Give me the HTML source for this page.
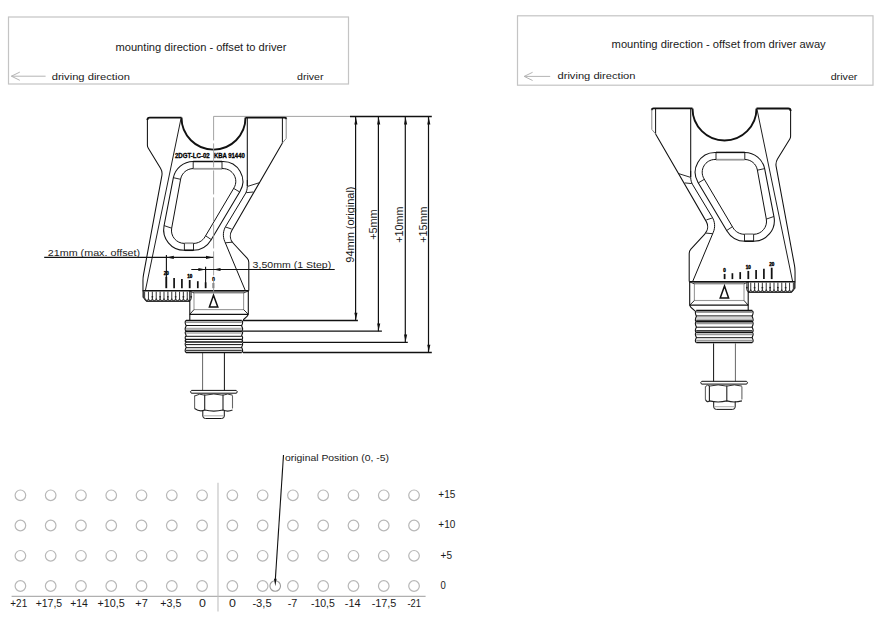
<!DOCTYPE html><html><head><meta charset="utf-8"><style>html,body{margin:0;padding:0;background:#fff;overflow:hidden;}svg{display:block;}text{font-family:"Liberation Sans",sans-serif;}</style></head><body>
<svg width="895" height="632" viewBox="0 0 895 632">
<rect width="895" height="632" fill="#fff"/>
<defs><g id="br"><path d="M147.4,120 Q147.4,117.6 149.8,117.6 L181.5,117.6" stroke="#111" stroke-width="1.90" fill="none" />
<path d="M245.5,117.5 L284.4,117.5 Q286.2,117.5 286.2,119.3" stroke="#111" stroke-width="1.90" fill="none" />
<path d="M181.5,117.6 A32,32 0 0 0 245.5,117.6" stroke="#111" stroke-width="1.90" fill="none" />
<path d="M147.40,119.50 L147.40,145.30 C147.40,146.28 147.67,147.24 148.18,148.08 L160.51,168.19 C161.86,170.39 162.34,173.00 161.87,175.53 L143.52,274.55 C143.15,276.51 142.97,278.50 142.97,280.50 L142.97,290.70" stroke="#111" stroke-width="1.05" fill="none" />
<line x1="181.00" y1="118.50" x2="145.40" y2="290.50" stroke="#111" stroke-width="0.95"/>
<line x1="247.30" y1="117.50" x2="247.30" y2="186.00" stroke="#111" stroke-width="1.05"/>
<line x1="282.40" y1="117.50" x2="282.40" y2="143.00" stroke="#111" stroke-width="1.00"/>
<path d="M286.2,118.5 L286.2,138.5 L282.4,143" stroke="#888" stroke-width="1.00" fill="none" />
<path d="M282.40,143.00 L231.81,230.47 C229.42,234.59 230.01,239.78 233.25,243.26 L247.10,258.17 C248.19,259.35 248.80,260.89 248.80,262.50 L248.80,290.70" stroke="#111" stroke-width="1.05" fill="none" />
<path d="M247.30,180.00 L247.30,186.50 C247.30,189.12 246.59,191.68 245.24,193.93 L225.79,226.22 C223.03,230.80 222.62,236.41 224.69,241.34 L245.50,291.00" stroke="#111" stroke-width="1.00" fill="none" />
<line x1="247.60" y1="186.40" x2="260.00" y2="182.50" stroke="#111" stroke-width="0.90"/>
<line x1="246.20" y1="192.70" x2="253.30" y2="192.00" stroke="#111" stroke-width="0.90"/>
<line x1="225.50" y1="227.00" x2="231.60" y2="229.00" stroke="#111" stroke-width="0.90"/>
<line x1="225.30" y1="242.80" x2="232.20" y2="242.20" stroke="#111" stroke-width="0.90"/>
<path d="M173.32,177.90 C175.17,168.38 183.50,161.50 193.20,161.50 L222.90,161.50 C238.32,161.50 247.87,178.31 239.96,191.55 L211.05,240.00 C207.24,246.39 200.34,250.30 192.90,250.30 L184.30,250.30 C171.34,250.30 161.59,238.48 164.05,225.76 Z" stroke="#111" stroke-width="1.05" fill="none" />
<path d="M180.64,179.08 C181.75,173.01 187.03,168.60 193.20,168.60 L223.00,168.60 C232.89,168.60 239.03,179.36 233.99,187.87 L204.97,236.86 C202.57,240.91 198.21,243.40 193.50,243.40 L184.40,243.40 C176.33,243.40 170.23,236.09 171.68,228.15 Z" stroke="#111" stroke-width="1.00" fill="none" />
<rect x="193.6" y="167.6" width="28" height="2.2" fill="#fff"/>
<line x1="193.40" y1="168.80" x2="222.00" y2="168.80" stroke="#999" stroke-width="1.80"/>
<line x1="193.20" y1="161.50" x2="222.00" y2="161.50" stroke="#111" stroke-width="1.50"/>
<rect x="184.9" y="242.4" width="8.1" height="2.0" fill="#fff"/>
<line x1="184.60" y1="243.20" x2="193.30" y2="243.20" stroke="#999" stroke-width="1.80"/>
<line x1="184.40" y1="250.30" x2="193.50" y2="250.30" stroke="#111" stroke-width="1.50"/>
<line x1="193.20" y1="161.50" x2="193.20" y2="168.60" stroke="#111" stroke-width="0.90"/>
<line x1="222.00" y1="161.50" x2="222.00" y2="168.60" stroke="#111" stroke-width="0.90"/>
<line x1="173.40" y1="177.70" x2="180.60" y2="179.30" stroke="#111" stroke-width="0.90"/>
<line x1="164.10" y1="225.60" x2="171.70" y2="228.20" stroke="#111" stroke-width="0.90"/>
<line x1="184.40" y1="250.30" x2="184.40" y2="243.40" stroke="#111" stroke-width="0.90"/>
<line x1="193.50" y1="250.30" x2="193.50" y2="243.40" stroke="#111" stroke-width="0.90"/>
<line x1="211.30" y1="239.60" x2="205.60" y2="235.80" stroke="#111" stroke-width="0.90"/>
<line x1="239.70" y1="192.00" x2="233.70" y2="188.40" stroke="#111" stroke-width="0.90"/>
<line x1="142.60" y1="290.80" x2="248.80" y2="290.80" stroke="#111" stroke-width="1.50"/>
<path d="M143.2,290.8 L143.2,297 L146.8,301.3 L190,301.3" stroke="#333" stroke-width="1.50" fill="none" />
<line x1="144.60" y1="291.60" x2="144.60" y2="299.00" stroke="#444" stroke-width="1.10"/>
<line x1="148.48" y1="291.60" x2="148.48" y2="299.00" stroke="#444" stroke-width="1.10"/>
<line x1="152.36" y1="291.60" x2="152.36" y2="299.00" stroke="#444" stroke-width="1.10"/>
<line x1="156.24" y1="291.60" x2="156.24" y2="299.00" stroke="#444" stroke-width="1.10"/>
<line x1="160.12" y1="291.60" x2="160.12" y2="299.00" stroke="#444" stroke-width="1.10"/>
<line x1="164.00" y1="291.60" x2="164.00" y2="299.00" stroke="#444" stroke-width="1.10"/>
<line x1="167.88" y1="291.60" x2="167.88" y2="299.00" stroke="#444" stroke-width="1.10"/>
<line x1="171.76" y1="291.60" x2="171.76" y2="299.00" stroke="#444" stroke-width="1.10"/>
<line x1="175.64" y1="291.60" x2="175.64" y2="299.00" stroke="#444" stroke-width="1.10"/>
<line x1="179.52" y1="291.60" x2="179.52" y2="299.00" stroke="#444" stroke-width="1.10"/>
<line x1="183.40" y1="291.60" x2="183.40" y2="299.00" stroke="#444" stroke-width="1.10"/>
<line x1="187.28" y1="291.60" x2="187.28" y2="299.00" stroke="#444" stroke-width="1.10"/>
<line x1="191.16" y1="291.60" x2="191.16" y2="299.00" stroke="#444" stroke-width="1.10"/>
<path d="M144.60,299.0 Q146.54,302.6 148.48,299.0 Q150.42,302.6 152.36,299.0 Q154.30,302.6 156.24,299.0 Q158.18,302.6 160.12,299.0 Q162.06,302.6 164.00,299.0 Q165.94,302.6 167.88,299.0 Q169.82,302.6 171.76,299.0 Q173.70,302.6 175.64,299.0 Q177.58,302.6 179.52,299.0 Q181.46,302.6 183.40,299.0 Q185.34,302.6 187.28,299.0 Q189.22,302.6 191.16,299.0 " stroke="#333" stroke-width="1.10" fill="none" />
<circle cx="152.36" cy="296.8" r="0.9" fill="#222"/>
<circle cx="160.12" cy="296.8" r="0.9" fill="#222"/>
<circle cx="167.88" cy="296.8" r="0.9" fill="#222"/>
<circle cx="175.64" cy="296.8" r="0.9" fill="#222"/>
<circle cx="183.40" cy="296.8" r="0.9" fill="#222"/>
<circle cx="191.16" cy="296.8" r="0.9" fill="#222"/>
<path d="M189.8,290.8 L189.8,320" stroke="#111" stroke-width="1.10" fill="none" />
<path d="M248.3,290.8 L248.3,313.6 Q248.3,316 243.6,319.5 L243.6,320.3" stroke="#111" stroke-width="1.10" fill="none" />
<line x1="189.80" y1="314.30" x2="248.30" y2="314.30" stroke="#111" stroke-width="1.30"/>
<line x1="193.50" y1="292.20" x2="244.30" y2="292.20" stroke="#111" stroke-width="0.90"/>
<rect x="194" y="293" width="49.6" height="16.6" fill="none" stroke="#999" stroke-width="1.1"/>
<line x1="189.80" y1="291.00" x2="194.00" y2="293.00" stroke="#111" stroke-width="0.80"/>
<line x1="248.30" y1="291.00" x2="243.60" y2="293.00" stroke="#111" stroke-width="0.80"/>
<line x1="194.00" y1="309.60" x2="189.80" y2="314.30" stroke="#111" stroke-width="0.90"/>
<line x1="243.60" y1="309.60" x2="248.30" y2="314.30" stroke="#111" stroke-width="0.90"/>
<path d="M213.5,295.2 L209.4,307 L217.8,307 Z" fill="none" stroke="#111" stroke-width="1.5" stroke-linejoin="miter"/>
<line x1="202.60" y1="352.50" x2="202.60" y2="390.50" stroke="#666" stroke-width="1.00"/>
<line x1="224.40" y1="352.50" x2="224.40" y2="390.50" stroke="#111" stroke-width="1.00"/>
<path d="M191.5,390.4 L236.2,390.4 Q238.2,391.7 236.5,393.2 L191.3,393.2 Q189.6,391.7 191.5,390.4 Z" stroke="#111" stroke-width="1.00" fill="none" />
<path d="M202.8,410.3 L202.8,416 Q202.8,418.5 205.5,418.5 L221.6,418.5 Q224.3,418.5 224.3,416 L224.3,410.3" stroke="#111" stroke-width="1.00" fill="none" />
<line x1="203.50" y1="415.80" x2="223.60" y2="415.80" stroke="#888" stroke-width="0.70"/></g></defs>
<rect x="8.5" y="17" width="340" height="67" fill="none" stroke="#c4c4c4" stroke-width="1.2"/>
<rect x="517.5" y="15.8" width="355.5" height="69.4" fill="none" stroke="#c4c4c4" stroke-width="1.2"/>
<path d="M11.4,76.2 L45.6,76.2 M19.8,72.1 L11.4,76.2 L19.8,80.3" stroke="#b4b4b4" stroke-width="1" fill="none"/>
<path d="M524.2,76.4 L550.2,76.4 M532.6,72.3 L524.2,76.4 L532.6,80.5" stroke="#b4b4b4" stroke-width="1" fill="none"/>
<text x="115.50" y="51.10" font-size="10.00" textLength="170.90" lengthAdjust="spacingAndGlyphs" text-anchor="start" fill="#1a1a1a" >mounting direction - offset to driver</text>
<text x="51.70" y="79.50" font-size="9.90" textLength="78.20" lengthAdjust="spacingAndGlyphs" text-anchor="start" fill="#1a1a1a" >driving direction</text>
<text x="297.00" y="79.60" font-size="9.90" textLength="26.50" lengthAdjust="spacingAndGlyphs" text-anchor="start" fill="#1a1a1a" >driver</text>
<text x="611.60" y="47.70" font-size="10.00" textLength="214.10" lengthAdjust="spacingAndGlyphs" text-anchor="start" fill="#1a1a1a" >mounting direction - offset from driver away</text>
<text x="557.50" y="78.60" font-size="9.90" textLength="78.00" lengthAdjust="spacingAndGlyphs" text-anchor="start" fill="#1a1a1a" >driving direction</text>
<text x="830.70" y="79.70" font-size="9.90" textLength="26.70" lengthAdjust="spacingAndGlyphs" text-anchor="start" fill="#1a1a1a" >driver</text>
<use href="#br"/>
<use href="#br" transform="matrix(-1 0 0 1 938 -9.1)"/>
<line x1="186.00" y1="320.50" x2="241.80" y2="320.50" stroke="#111" stroke-width="1.70"/>
<line x1="186.00" y1="322.30" x2="241.80" y2="322.30" stroke="#999" stroke-width="1.30"/>
<line x1="186.00" y1="325.50" x2="241.80" y2="325.50" stroke="#111" stroke-width="1.00"/>
<line x1="186.00" y1="328.50" x2="241.80" y2="328.50" stroke="#aaa" stroke-width="1.60"/>
<line x1="186.00" y1="330.00" x2="241.80" y2="330.00" stroke="#888" stroke-width="1.20"/>
<line x1="186.00" y1="331.20" x2="241.80" y2="331.20" stroke="#111" stroke-width="1.50"/>
<line x1="186.00" y1="333.00" x2="241.80" y2="333.00" stroke="#aaa" stroke-width="1.40"/>
<line x1="186.00" y1="336.30" x2="241.80" y2="336.30" stroke="#111" stroke-width="1.00"/>
<line x1="186.00" y1="339.40" x2="241.80" y2="339.40" stroke="#111" stroke-width="1.40"/>
<line x1="186.00" y1="342.10" x2="241.80" y2="342.10" stroke="#111" stroke-width="1.50"/>
<line x1="186.00" y1="344.60" x2="241.80" y2="344.60" stroke="#111" stroke-width="1.00"/>
<line x1="186.00" y1="347.70" x2="241.80" y2="347.70" stroke="#111" stroke-width="1.00"/>
<line x1="186.00" y1="350.30" x2="241.80" y2="350.30" stroke="#111" stroke-width="1.00"/>
<line x1="186.00" y1="352.50" x2="241.80" y2="352.50" stroke="#111" stroke-width="1.70"/>
<path d="M186.00,320.50 Q184.20,321.70 186.20,325.85 Q184.20,330.00 186.00,331.20 Q184.20,332.40 186.20,335.30 Q184.20,338.20 186.00,339.40 Q184.20,340.60 186.20,340.75 Q184.20,340.90 186.00,342.10 Q184.20,343.30 186.20,347.30 Q184.20,351.30 186.00,352.50 " stroke="#111" stroke-width="1.1" fill="none"/>
<path d="M241.80,320.50 Q243.60,321.70 241.60,325.85 Q243.60,330.00 241.80,331.20 Q243.60,332.40 241.60,335.30 Q243.60,338.20 241.80,339.40 Q243.60,340.60 241.60,340.75 Q243.60,340.90 241.80,342.10 Q243.60,343.30 241.60,347.30 Q243.60,351.30 241.80,352.50 " stroke="#111" stroke-width="1.1" fill="none"/>
<line x1="204.70" y1="394.50" x2="204.70" y2="410.30" stroke="#222" stroke-width="1.1"/>
<line x1="223.00" y1="394.50" x2="223.00" y2="410.30" stroke="#222" stroke-width="1.1"/>
<line x1="194.60" y1="395.50" x2="194.60" y2="408.50" stroke="#666" stroke-width="1.1"/>
<line x1="232.50" y1="395.50" x2="232.50" y2="408.50" stroke="#666" stroke-width="1.1"/>
<path d="M194.60,396.00 Q199.65,392.80 204.70,395.20 Q213.85,392.80 223.00,395.20 Q227.75,392.80 232.50,395.20 " stroke="#333" stroke-width="1.0" fill="none"/>
<path d="M194.60,408.50 Q199.65,412.20 204.70,410.00 Q213.85,412.20 223.00,410.00 Q227.75,412.20 232.50,410.00 " stroke="#222" stroke-width="1.1" fill="none"/>
<line x1="696.20" y1="310.70" x2="752.30" y2="310.70" stroke="#111" stroke-width="1.70"/>
<line x1="696.20" y1="312.40" x2="752.30" y2="312.40" stroke="#999" stroke-width="1.30"/>
<line x1="696.20" y1="315.90" x2="752.30" y2="315.90" stroke="#111" stroke-width="1.00"/>
<line x1="696.20" y1="318.00" x2="752.30" y2="318.00" stroke="#aaa" stroke-width="1.20"/>
<line x1="696.20" y1="320.20" x2="752.30" y2="320.20" stroke="#111" stroke-width="1.00"/>
<line x1="696.20" y1="321.60" x2="752.30" y2="321.60" stroke="#111" stroke-width="1.60"/>
<line x1="696.20" y1="323.70" x2="752.30" y2="323.70" stroke="#999" stroke-width="1.20"/>
<line x1="696.20" y1="327.20" x2="752.30" y2="327.20" stroke="#111" stroke-width="1.00"/>
<line x1="696.20" y1="330.70" x2="752.30" y2="330.70" stroke="#111" stroke-width="1.00"/>
<line x1="696.20" y1="332.40" x2="752.30" y2="332.40" stroke="#111" stroke-width="1.60"/>
<line x1="696.20" y1="334.60" x2="752.30" y2="334.60" stroke="#999" stroke-width="1.20"/>
<line x1="696.20" y1="337.70" x2="752.30" y2="337.70" stroke="#111" stroke-width="1.00"/>
<line x1="696.20" y1="340.30" x2="752.30" y2="340.30" stroke="#999" stroke-width="1.20"/>
<line x1="696.20" y1="342.50" x2="752.30" y2="342.50" stroke="#111" stroke-width="1.70"/>
<path d="M696.20,310.70 Q694.40,311.90 696.40,316.15 Q694.40,320.40 696.20,321.60 Q694.40,322.80 696.40,327.00 Q694.40,331.20 696.20,332.40 Q694.40,333.60 696.40,337.45 Q694.40,341.30 696.20,342.50 " stroke="#111" stroke-width="1.1" fill="none"/>
<path d="M752.30,310.70 Q754.10,311.90 752.10,316.15 Q754.10,320.40 752.30,321.60 Q754.10,322.80 752.10,327.00 Q754.10,331.20 752.30,332.40 Q754.10,333.60 752.10,337.45 Q754.10,341.30 752.30,342.50 " stroke="#111" stroke-width="1.1" fill="none"/>
<line x1="709.40" y1="385.40" x2="709.40" y2="401.20" stroke="#222" stroke-width="1.1"/>
<line x1="726.80" y1="385.40" x2="726.80" y2="401.20" stroke="#222" stroke-width="1.1"/>
<line x1="705.40" y1="386.40" x2="705.40" y2="399.40" stroke="#666" stroke-width="1.1"/>
<line x1="741.90" y1="386.40" x2="741.90" y2="399.40" stroke="#666" stroke-width="1.1"/>
<path d="M705.40,386.90 Q707.40,383.70 709.40,386.10 Q718.10,383.70 726.80,386.10 Q734.35,383.70 741.90,386.10 " stroke="#333" stroke-width="1.0" fill="none"/>
<path d="M705.40,399.40 Q707.40,403.10 709.40,400.90 Q718.10,403.10 726.80,400.90 Q734.35,403.10 741.90,400.90 " stroke="#222" stroke-width="1.1" fill="none"/>
<line x1="166.30" y1="276.80" x2="166.30" y2="288.20" stroke="#111" stroke-width="1.80"/>
<line x1="174.10" y1="277.90" x2="174.10" y2="288.20" stroke="#111" stroke-width="1.70"/>
<line x1="181.90" y1="279.00" x2="181.90" y2="288.20" stroke="#111" stroke-width="1.70"/>
<line x1="189.70" y1="280.00" x2="189.70" y2="288.20" stroke="#111" stroke-width="1.80"/>
<line x1="197.80" y1="281.20" x2="197.80" y2="288.20" stroke="#111" stroke-width="1.70"/>
<line x1="205.60" y1="282.30" x2="205.60" y2="288.20" stroke="#111" stroke-width="1.70"/>
<line x1="213.40" y1="283.00" x2="213.40" y2="288.20" stroke="#555" stroke-width="1.80"/>
<text x="166.30" y="274.60" font-size="4.6" font-weight="bold" text-anchor="middle" fill="#000" stroke="#000" stroke-width="0.35">20</text>
<text x="189.70" y="277.80" font-size="4.6" font-weight="bold" text-anchor="middle" fill="#000" stroke="#000" stroke-width="0.35">10</text>
<text x="213.50" y="280.60" font-size="4.6" font-weight="bold" text-anchor="middle" fill="#000" stroke="#000" stroke-width="0.35">0</text>
<line x1="771.70" y1="267.70" x2="771.70" y2="279.10" stroke="#111" stroke-width="1.80"/>
<line x1="763.90" y1="268.80" x2="763.90" y2="279.10" stroke="#111" stroke-width="1.70"/>
<line x1="756.10" y1="269.90" x2="756.10" y2="279.10" stroke="#111" stroke-width="1.70"/>
<line x1="748.30" y1="270.90" x2="748.30" y2="279.10" stroke="#111" stroke-width="1.80"/>
<line x1="740.20" y1="272.10" x2="740.20" y2="279.10" stroke="#111" stroke-width="1.70"/>
<line x1="732.40" y1="273.20" x2="732.40" y2="279.10" stroke="#111" stroke-width="1.70"/>
<line x1="724.60" y1="273.90" x2="724.60" y2="279.10" stroke="#111" stroke-width="1.80"/>
<text x="771.70" y="265.50" font-size="4.6" font-weight="bold" text-anchor="middle" fill="#000" stroke="#000" stroke-width="0.35">20</text>
<text x="748.30" y="268.70" font-size="4.6" font-weight="bold" text-anchor="middle" fill="#000" stroke="#000" stroke-width="0.35">10</text>
<text x="724.50" y="271.50" font-size="4.6" font-weight="bold" text-anchor="middle" fill="#000" stroke="#000" stroke-width="0.35">0</text>
<text x="174.9" y="158.2" font-size="6.4" font-weight="bold" textLength="34.8" lengthAdjust="spacingAndGlyphs" fill="#000" stroke="#000" stroke-width="0.3">2DGT-LC-02</text>
<text x="213.9" y="158.2" font-size="6.4" font-weight="bold" textLength="30.9" lengthAdjust="spacingAndGlyphs" fill="#000" stroke="#000" stroke-width="0.3">KBA 91440</text>
<line x1="213.6" y1="116.4" x2="213.6" y2="292" stroke="#999" stroke-width="0.9" stroke-dasharray="24,3"/>
<line x1="213.6" y1="116.4" x2="350" y2="116.4" stroke="#999" stroke-width="0.9"/>
<line x1="350" y1="116.5" x2="431.8" y2="116.5" stroke="#111" stroke-width="1.3"/>
<line x1="355.6" y1="116.5" x2="355.6" y2="320.5" stroke="#111" stroke-width="1.2"/>
<line x1="243" y1="320.5" x2="357.9" y2="320.5" stroke="#111" stroke-width="1.3"/>
<path d="M355.90,117.20 L354.35,124.40 L357.45,124.40 Z" fill="#111"/>
<path d="M355.90,319.90 L354.35,312.70 L357.45,312.70 Z" fill="#111"/>
<line x1="378.4" y1="116.5" x2="378.4" y2="331.2" stroke="#111" stroke-width="1.2"/>
<line x1="243" y1="331.2" x2="381.9" y2="331.2" stroke="#111" stroke-width="1.3"/>
<path d="M378.70,117.20 L377.15,124.40 L380.25,124.40 Z" fill="#111"/>
<path d="M378.70,330.60 L377.15,323.40 L380.25,323.40 Z" fill="#111"/>
<line x1="405.3" y1="116.5" x2="405.3" y2="342.4" stroke="#111" stroke-width="1.2"/>
<line x1="243" y1="342.4" x2="407.8" y2="342.4" stroke="#111" stroke-width="1.3"/>
<path d="M405.60,117.20 L404.05,124.40 L407.15,124.40 Z" fill="#111"/>
<path d="M405.60,341.80 L404.05,334.60 L407.15,334.60 Z" fill="#111"/>
<line x1="428.5" y1="116.5" x2="428.5" y2="352.5" stroke="#111" stroke-width="1.2"/>
<line x1="243" y1="352.5" x2="431.8" y2="352.5" stroke="#111" stroke-width="1.3"/>
<path d="M428.80,117.20 L427.25,124.40 L430.35,124.40 Z" fill="#111"/>
<path d="M428.80,351.90 L427.25,344.70 L430.35,344.70 Z" fill="#111"/>
<text transform="translate(353.80,224.60) rotate(-90)" x="0" y="0" font-size="10.50" text-anchor="middle" textLength="76.20" lengthAdjust="spacingAndGlyphs" fill="#1a1a1a">94mm (original)</text>
<text transform="translate(376.80,224.60) rotate(-90)" x="0" y="0" font-size="10.30" text-anchor="middle" textLength="30.50" lengthAdjust="spacingAndGlyphs" fill="#1a1a1a">+5mm</text>
<text transform="translate(402.60,224.70) rotate(-90)" x="0" y="0" font-size="10.20" text-anchor="middle" textLength="36.20" lengthAdjust="spacingAndGlyphs" fill="#1a1a1a">+10mm</text>
<text transform="translate(426.60,224.70) rotate(-90)" x="0" y="0" font-size="10.20" text-anchor="middle" textLength="36.20" lengthAdjust="spacingAndGlyphs" fill="#1a1a1a">+15mm</text>
<line x1="44.2" y1="257.4" x2="213.3" y2="257.4" stroke="#111" stroke-width="1.3"/>
<line x1="166.4" y1="255" x2="166.4" y2="288" stroke="#111" stroke-width="1.1"/>
<path d="M166.60,257.40 L173.80,255.85 L173.80,258.95 Z" fill="#111"/>
<path d="M213.20,257.40 L206.00,255.85 L206.00,258.95 Z" fill="#111"/>
<text x="47.80" y="255.90" font-size="9.20" textLength="92.30" lengthAdjust="spacingAndGlyphs" text-anchor="start" fill="#1a1a1a" >21mm (max. offset)</text>
<line x1="191.3" y1="269.5" x2="334.7" y2="269.5" stroke="#111" stroke-width="1.2"/>
<line x1="205.6" y1="266.8" x2="205.6" y2="288" stroke="#111" stroke-width="1.1"/>
<path d="M205.60,269.50 L198.40,267.95 L198.40,271.05 Z" fill="#111"/>
<path d="M213.30,269.50 L220.50,267.95 L220.50,271.05 Z" fill="#111"/>
<text x="252.60" y="267.60" font-size="9.30" textLength="78.60" lengthAdjust="spacingAndGlyphs" text-anchor="start" fill="#1a1a1a" >3,50mm (1 Step)</text>
<circle cx="20.40" cy="495.30" r="5.3" fill="none" stroke="#b8b8b8" stroke-width="1.2"/>
<circle cx="20.40" cy="525.50" r="5.3" fill="none" stroke="#b8b8b8" stroke-width="1.2"/>
<circle cx="20.40" cy="555.80" r="5.3" fill="none" stroke="#b8b8b8" stroke-width="1.2"/>
<circle cx="20.40" cy="586.00" r="5.3" fill="none" stroke="#b8b8b8" stroke-width="1.2"/>
<circle cx="50.68" cy="495.30" r="5.3" fill="none" stroke="#b8b8b8" stroke-width="1.2"/>
<circle cx="50.68" cy="525.50" r="5.3" fill="none" stroke="#b8b8b8" stroke-width="1.2"/>
<circle cx="50.68" cy="555.80" r="5.3" fill="none" stroke="#b8b8b8" stroke-width="1.2"/>
<circle cx="50.68" cy="586.00" r="5.3" fill="none" stroke="#b8b8b8" stroke-width="1.2"/>
<circle cx="80.96" cy="495.30" r="5.3" fill="none" stroke="#b8b8b8" stroke-width="1.2"/>
<circle cx="80.96" cy="525.50" r="5.3" fill="none" stroke="#b8b8b8" stroke-width="1.2"/>
<circle cx="80.96" cy="555.80" r="5.3" fill="none" stroke="#b8b8b8" stroke-width="1.2"/>
<circle cx="80.96" cy="586.00" r="5.3" fill="none" stroke="#b8b8b8" stroke-width="1.2"/>
<circle cx="111.24" cy="495.30" r="5.3" fill="none" stroke="#b8b8b8" stroke-width="1.2"/>
<circle cx="111.24" cy="525.50" r="5.3" fill="none" stroke="#b8b8b8" stroke-width="1.2"/>
<circle cx="111.24" cy="555.80" r="5.3" fill="none" stroke="#b8b8b8" stroke-width="1.2"/>
<circle cx="111.24" cy="586.00" r="5.3" fill="none" stroke="#b8b8b8" stroke-width="1.2"/>
<circle cx="141.52" cy="495.30" r="5.3" fill="none" stroke="#b8b8b8" stroke-width="1.2"/>
<circle cx="141.52" cy="525.50" r="5.3" fill="none" stroke="#b8b8b8" stroke-width="1.2"/>
<circle cx="141.52" cy="555.80" r="5.3" fill="none" stroke="#b8b8b8" stroke-width="1.2"/>
<circle cx="141.52" cy="586.00" r="5.3" fill="none" stroke="#b8b8b8" stroke-width="1.2"/>
<circle cx="171.80" cy="495.30" r="5.3" fill="none" stroke="#b8b8b8" stroke-width="1.2"/>
<circle cx="171.80" cy="525.50" r="5.3" fill="none" stroke="#b8b8b8" stroke-width="1.2"/>
<circle cx="171.80" cy="555.80" r="5.3" fill="none" stroke="#b8b8b8" stroke-width="1.2"/>
<circle cx="171.80" cy="586.00" r="5.3" fill="none" stroke="#b8b8b8" stroke-width="1.2"/>
<circle cx="202.08" cy="495.30" r="5.3" fill="none" stroke="#b8b8b8" stroke-width="1.2"/>
<circle cx="202.08" cy="525.50" r="5.3" fill="none" stroke="#b8b8b8" stroke-width="1.2"/>
<circle cx="202.08" cy="555.80" r="5.3" fill="none" stroke="#b8b8b8" stroke-width="1.2"/>
<circle cx="202.08" cy="586.00" r="5.3" fill="none" stroke="#b8b8b8" stroke-width="1.2"/>
<circle cx="232.36" cy="495.30" r="5.3" fill="none" stroke="#b8b8b8" stroke-width="1.2"/>
<circle cx="232.36" cy="525.50" r="5.3" fill="none" stroke="#b8b8b8" stroke-width="1.2"/>
<circle cx="232.36" cy="555.80" r="5.3" fill="none" stroke="#b8b8b8" stroke-width="1.2"/>
<circle cx="232.36" cy="586.00" r="5.3" fill="none" stroke="#b8b8b8" stroke-width="1.2"/>
<circle cx="262.64" cy="495.30" r="5.3" fill="none" stroke="#b8b8b8" stroke-width="1.2"/>
<circle cx="262.64" cy="525.50" r="5.3" fill="none" stroke="#b8b8b8" stroke-width="1.2"/>
<circle cx="262.64" cy="555.80" r="5.3" fill="none" stroke="#b8b8b8" stroke-width="1.2"/>
<circle cx="262.64" cy="586.00" r="5.3" fill="none" stroke="#b8b8b8" stroke-width="1.2"/>
<circle cx="292.92" cy="495.30" r="5.3" fill="none" stroke="#b8b8b8" stroke-width="1.2"/>
<circle cx="292.92" cy="525.50" r="5.3" fill="none" stroke="#b8b8b8" stroke-width="1.2"/>
<circle cx="292.92" cy="555.80" r="5.3" fill="none" stroke="#b8b8b8" stroke-width="1.2"/>
<circle cx="292.92" cy="586.00" r="5.3" fill="none" stroke="#b8b8b8" stroke-width="1.2"/>
<circle cx="323.20" cy="495.30" r="5.3" fill="none" stroke="#b8b8b8" stroke-width="1.2"/>
<circle cx="323.20" cy="525.50" r="5.3" fill="none" stroke="#b8b8b8" stroke-width="1.2"/>
<circle cx="323.20" cy="555.80" r="5.3" fill="none" stroke="#b8b8b8" stroke-width="1.2"/>
<circle cx="323.20" cy="586.00" r="5.3" fill="none" stroke="#b8b8b8" stroke-width="1.2"/>
<circle cx="353.48" cy="495.30" r="5.3" fill="none" stroke="#b8b8b8" stroke-width="1.2"/>
<circle cx="353.48" cy="525.50" r="5.3" fill="none" stroke="#b8b8b8" stroke-width="1.2"/>
<circle cx="353.48" cy="555.80" r="5.3" fill="none" stroke="#b8b8b8" stroke-width="1.2"/>
<circle cx="353.48" cy="586.00" r="5.3" fill="none" stroke="#b8b8b8" stroke-width="1.2"/>
<circle cx="383.76" cy="495.30" r="5.3" fill="none" stroke="#b8b8b8" stroke-width="1.2"/>
<circle cx="383.76" cy="525.50" r="5.3" fill="none" stroke="#b8b8b8" stroke-width="1.2"/>
<circle cx="383.76" cy="555.80" r="5.3" fill="none" stroke="#b8b8b8" stroke-width="1.2"/>
<circle cx="383.76" cy="586.00" r="5.3" fill="none" stroke="#b8b8b8" stroke-width="1.2"/>
<circle cx="414.04" cy="495.30" r="5.3" fill="none" stroke="#b8b8b8" stroke-width="1.2"/>
<circle cx="414.04" cy="525.50" r="5.3" fill="none" stroke="#b8b8b8" stroke-width="1.2"/>
<circle cx="414.04" cy="555.80" r="5.3" fill="none" stroke="#b8b8b8" stroke-width="1.2"/>
<circle cx="414.04" cy="586.00" r="5.3" fill="none" stroke="#b8b8b8" stroke-width="1.2"/>
<circle cx="275.2" cy="586" r="5.3" fill="none" stroke="#9a9a9a" stroke-width="1.1"/>
<line x1="11.6" y1="596.4" x2="425.6" y2="596.4" stroke="#b0b0b0" stroke-width="1.1"/>
<line x1="218" y1="482.7" x2="218" y2="611.5" stroke="#c0c0c0" stroke-width="1.1"/>
<text x="18.75" y="606.8" font-size="10" text-anchor="middle" textLength="16.83" lengthAdjust="spacingAndGlyphs" fill="#1a1a1a">+21</text>
<text x="48.95" y="606.8" font-size="10" text-anchor="middle" textLength="26.53" lengthAdjust="spacingAndGlyphs" fill="#1a1a1a">+17,5</text>
<text x="79.05" y="606.8" font-size="10" text-anchor="middle" textLength="17.68" lengthAdjust="spacingAndGlyphs" fill="#1a1a1a">+14</text>
<text x="111.20" y="606.8" font-size="10" text-anchor="middle" textLength="27.26" lengthAdjust="spacingAndGlyphs" fill="#1a1a1a">+10,5</text>
<text x="141.50" y="606.8" font-size="10" text-anchor="middle" textLength="12.46" lengthAdjust="spacingAndGlyphs" fill="#1a1a1a">+7</text>
<text x="170.85" y="606.8" font-size="10" text-anchor="middle" textLength="21.09" lengthAdjust="spacingAndGlyphs" fill="#1a1a1a">+3,5</text>
<text x="202.45" y="606.8" font-size="10" text-anchor="middle" textLength="6.89" lengthAdjust="spacingAndGlyphs" fill="#1a1a1a">0</text>
<text x="232.40" y="606.8" font-size="10" text-anchor="middle" textLength="6.89" lengthAdjust="spacingAndGlyphs" fill="#1a1a1a">0</text>
<text x="262.00" y="606.8" font-size="10" text-anchor="middle" textLength="19.21" lengthAdjust="spacingAndGlyphs" fill="#1a1a1a">-3,5</text>
<text x="292.50" y="606.8" font-size="10" text-anchor="middle" textLength="9.62" lengthAdjust="spacingAndGlyphs" fill="#1a1a1a">-7</text>
<text x="322.90" y="606.8" font-size="10" text-anchor="middle" textLength="23.92" lengthAdjust="spacingAndGlyphs" fill="#1a1a1a">-10,5</text>
<text x="352.70" y="606.8" font-size="10" text-anchor="middle" textLength="15.79" lengthAdjust="spacingAndGlyphs" fill="#1a1a1a">-14</text>
<text x="384.00" y="606.8" font-size="10" text-anchor="middle" textLength="24.75" lengthAdjust="spacingAndGlyphs" fill="#1a1a1a">-17,5</text>
<text x="414.20" y="606.8" font-size="10" text-anchor="middle" textLength="13.47" lengthAdjust="spacingAndGlyphs" fill="#1a1a1a">-21</text>
<text x="438.30" y="497.60" font-size="10.2" textLength="17.00" lengthAdjust="spacingAndGlyphs" fill="#1a1a1a">+15</text>
<text x="438.30" y="527.90" font-size="10.2" textLength="17.00" lengthAdjust="spacingAndGlyphs" fill="#1a1a1a">+10</text>
<text x="440.50" y="558.60" font-size="10.2" textLength="11.50" lengthAdjust="spacingAndGlyphs" fill="#1a1a1a">+5</text>
<text x="440.50" y="588.60" font-size="10.2" textLength="5.30" lengthAdjust="spacingAndGlyphs" fill="#1a1a1a">0</text>
<text x="285.00" y="460.60" font-size="9.80" textLength="104.00" lengthAdjust="spacingAndGlyphs" text-anchor="start" fill="#1a1a1a" >original Position (0, -5)</text>
<line x1="283.5" y1="455" x2="275.3" y2="580" stroke="#111" stroke-width="1.1"/>
<path d="M275.30,586.20 L274.00,578.70 L276.60,578.70 Z" fill="#111"/>
</svg></body></html>
